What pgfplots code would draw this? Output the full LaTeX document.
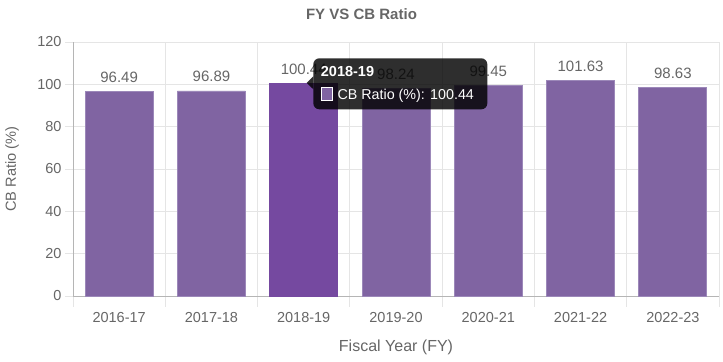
\documentclass[border=0pt]{standalone}
\usepackage{fontspec}
\setmainfont{Liberation Sans}
\usepackage{pgfplots}
\pgfplotsset{compat=1.18}
\definecolor{barc}{HTML}{8064A2}
\definecolor{barh}{HTML}{7549A0}
\definecolor{barb}{HTML}{9C88B9}
\definecolor{txt}{HTML}{666666}
\definecolor{gridc}{HTML}{E5E5E5}
\definecolor{axc}{HTML}{B5B5B5}
\begin{document}
\begin{tikzpicture}
\begin{axis}[
  scale only axis, width=646pt, height=254pt,
  xmin=-0.5, xmax=6.5, ymin=0, ymax=120,
  axis x line*=bottom, axis y line*=left,
  axis line style={axc, -, line width=0.8pt},
  xtick={0,...,6},
  xticklabels={2016-17,2017-18,2018-19,2019-20,2020-21,2021-22,2022-23},
  minor xtick={-0.5,0.5,...,6.5},
  ytick={0,20,...,120},
  ymajorgrids, xminorgrids,
  grid style={gridc, line width=0.8pt},
  major grid style={gridc, line width=0.8pt},
  minor grid style={gridc, line width=0.8pt},
  tick align=outside,
  major tick length=8pt, minor tick length=11pt,
  every major x tick/.style={draw=none},
  every major y tick/.style={draw=gridc, line width=0.8pt},
  every minor x tick/.style={draw=gridc, line width=0.8pt},
  /pgf/number format/assume math mode=true,
  tick label style={font=\fontsize{14.5}{17}\selectfont, text=txt},
  xticklabel style={yshift=-5pt},
  xlabel={Fiscal Year (FY)},
  ylabel={CB Ratio (\%)},
  xlabel style={font=\fontsize{16}{19}\selectfont, text=txt, at={(axis description cs:0.5,0)}, anchor=center, yshift=-51pt},
  ylabel style={font=\fontsize{14.6}{17}\selectfont, text=txt, at={(axis description cs:0,0.5)}, anchor=center, yshift=61pt},
  title={FY VS CB Ratio},
  title style={font=\bfseries\fontsize{15}{18}\selectfont, text=txt, at={(axis description cs:0.5,1)}, anchor=center, xshift=-34.5pt, yshift=22pt},
  ybar,
  bar width=68pt,
  point meta=explicit symbolic,
  nodes near coords,
  nodes near coords style={font=\fontsize{15}{18}\selectfont, text=txt, anchor=base, inner sep=0pt, yshift=9pt},
  clip=false,
]
\addplot[fill=barc, draw=barb, line width=0.8pt, bar shift=0pt] coordinates {
  (0,96.49) [96.49]
  (1,96.89) [96.89]
  (3,98.24) [98.24]
  (4,99.45) [99.45]
  (5,101.63) [101.63]
  (6,98.63) [98.63]
};
\addplot[fill=barh, draw=barh, line width=0.8pt, bar shift=0pt] coordinates {
  (2,100.44) [100.44]
};
\coordinate (tt) at (axis cs:2.104,112.3);
\coordinate (sw) at (rel axis cs:0,0);
\coordinate (ne) at (rel axis cs:1,1);
\end{axis}
\fill[black, fill opacity=0.82, rounded corners=6pt] (tt) rectangle ++(174pt,-51pt);
\fill[black, fill opacity=0.82] ([shift={(0pt,-18pt)}]tt) -- ++(-6.6pt,-6.5pt) -- ++(6.6pt,-6.5pt) -- cycle;
\node[anchor=base west, inner sep=0pt, text=white, font=\bfseries\fontsize{14.5}{17}\selectfont] at ([shift={(7.4pt,-18.4pt)}]tt) {2018-19};
\filldraw[fill=barc, draw=white, line width=0.9pt] ([shift={(7.8pt,-29.5pt)}]tt) rectangle ++(11.5pt,-12.5pt);
\node[anchor=base west, inner sep=0pt, text=white, font=\fontsize{14.3}{17}\selectfont] at ([shift={(24pt,-41.7pt)}]tt) {CB Ratio (\%): 100.44};
\pgfresetboundingbox
\path[use as bounding box] ([shift={(-73pt,-65pt)}]sw) rectangle ([shift={(4pt,42pt)}]ne);
\end{tikzpicture}
\end{document}
